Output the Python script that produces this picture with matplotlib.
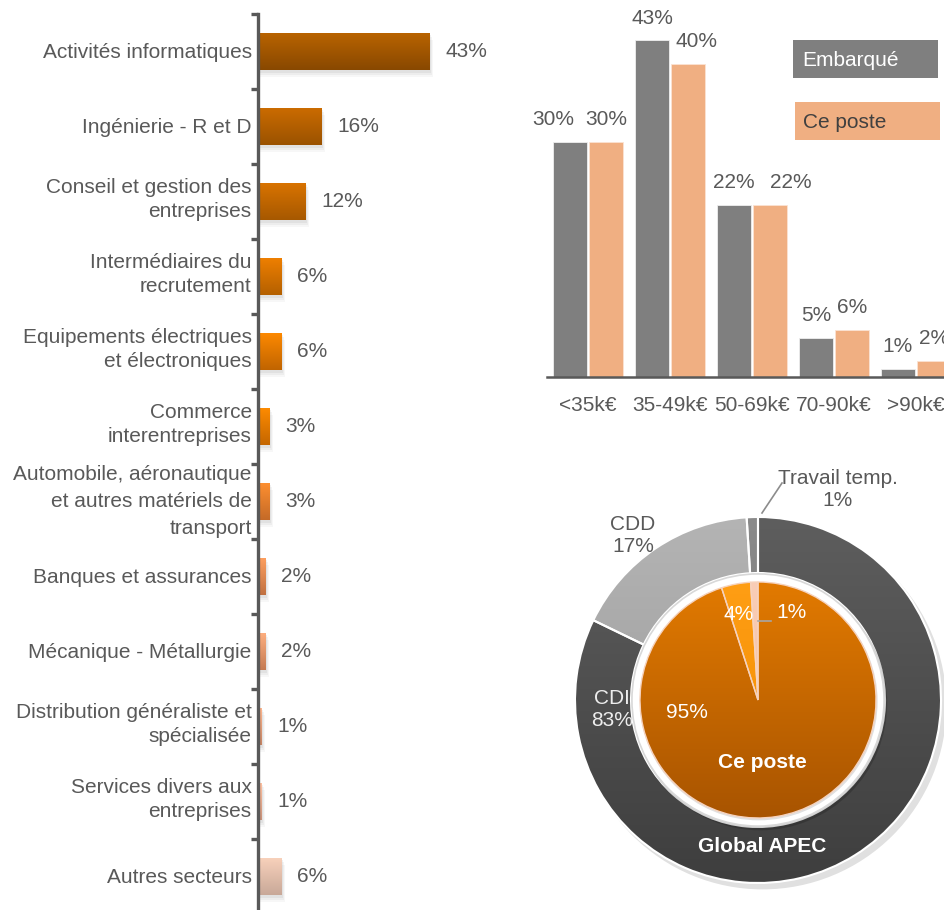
import numpy as np
import matplotlib
matplotlib.use("Agg")
import matplotlib.pyplot as plt
from matplotlib.colors import LinearSegmentedColormap
from matplotlib.patches import Rectangle, Circle

plt.rcParams["font.family"] = ["Liberation Sans", "DejaVu Sans"]

# ---- data -------------------------------------------------------------
sectors = [
    "Activités informatiques",
    "Ingénierie - R et D",
    "Conseil et gestion des\nentreprises",
    "Intermédiaires du\nrecrutement",
    "Equipements électriques\net électroniques",
    "Commerce\ninterentreprises",
    "Automobile, aéronautique\net autres matériels de\ntransport",
    "Banques et assurances",
    "Mécanique - Métallurgie",
    "Distribution généraliste et\nspécialisée",
    "Services divers aux\nentreprises",
    "Autres secteurs",
]
sector_pct = [43, 16, 12, 6, 6, 3, 3, 2, 2, 1, 1, 6]

salary_bands = ["<35k€", "35-49k€", "50-69k€", "70-90k€", ">90k€"]
salary_embarque = [30, 43, 22, 5, 1]
salary_poste = [30, 40, 22, 6, 2]

contract_labels = ["CDI", "CDD", "Travail temp."]
contract_global = [83, 17, 1]
contract_poste = [95, 4, 1]

# ---- styling ------------------------------------------------------------
TXT = "#595959"
FS = 15
W, H = 945, 910

# gradient (top, bottom) per sector bar
sector_grad = [
    ("#BA6400", "#884800"), ("#CC6C00", "#9A5200"), ("#DA7400", "#A65800"),
    ("#F08000", "#B46000"), ("#FF8A00", "#C06400"), ("#FF8C00", "#C46600"),
    ("#FF9030", "#C46A28"), ("#FFA060", "#C07040"), ("#FFB080", "#C47A52"),
    ("#FFB890", "#C48262"), ("#FFC2A2", "#C89078"), ("#F9D2BC", "#C8A898"),
]


def fx(px):
    return px / W


def fy(py):
    return 1 - py / H


def gradient_fill(ax, patch, top, bottom, extent, z):
    cmap = LinearSegmentedColormap.from_list("g", [top, bottom])
    g = np.linspace(0, 1, 256)[:, None]
    im = ax.imshow(g, cmap=cmap, extent=extent, origin="upper",
                   aspect="auto", zorder=z, interpolation="bilinear")
    im.set_clip_path(patch)
    return im


fig = plt.figure(figsize=(W / 100, H / 100), dpi=100)

# ---- sectors (horizontal bars) -----------------------------------------
ax1 = fig.add_axes([fx(258), fy(914), 240 / W, 900 / H])
ypos = np.arange(len(sectors))
bars = ax1.barh(ypos, sector_pct, height=0.5, color="none", zorder=3)
for i, (b, v) in enumerate(zip(bars, sector_pct)):
    y0 = b.get_y()
    h = b.get_height()
    # soft drop shadow
    for k, a in enumerate([0.10, 0.08, 0.06]):
        d = 0.25 + 0.25 * k
        ax1.add_patch(Rectangle((0, y0 + 0.03 * (k + 1)), v + d, h,
                                color="#7f7f7f", alpha=a, lw=0, zorder=1))
    top, bot = sector_grad[i]
    gradient_fill(ax1, b, top, bot, (0, v, y0 + h, y0), 2)
    ax1.annotate(f"{v}%", xy=(v, i), xytext=(11, 0), textcoords="offset points",
                 va="center", ha="left", fontsize=FS, color=TXT)

# category names, right-aligned against the axis line
for i, name in enumerate(sectors):
    n_lines = name.count("\n") + 1
    dy = {1: -1, 2: 1.5, 3: 0}[n_lines]
    ls = {1: 1.2, 2: 1.32, 3: 1.52}[n_lines]
    ax1.annotate(name, xy=(0, i), xytext=(-4.5, dy), textcoords="offset points",
                 ha="right", va="center", multialignment="right",
                 fontsize=FS, color=TXT, linespacing=ls, annotation_clip=False)

ax1.set_xlim(0, 60)
ax1.set_ylim(len(sectors) - 0.5, -0.5)
for s in ["top", "right", "bottom"]:
    ax1.spines[s].set_visible(False)
ax1.spines["left"].set_color(TXT)
ax1.spines["left"].set_linewidth(2.4)
ax1.set_xticks([])
ax1.set_yticks([])
ax1.set_yticks(np.arange(-0.5, len(sectors), 1), minor=True)
ax1.tick_params(axis="y", which="minor", length=5, width=2.4, color=TXT)

# ---- salary bands (grouped bars) ----------------------------------------
ax2 = fig.add_axes([fx(547), fy(376.7), 410 / W, 375.4 / H])
x = np.arange(len(salary_bands))
bw = 34 / 82
off = 18 / 82
GREY, SALMON = "#7F7F7F", "#F0AF82"
b_emb = ax2.bar(x - off, salary_embarque, width=bw, color=GREY,
                edgecolor="#eeeeee", linewidth=0.6, zorder=2)
b_pos = ax2.bar(x + off, salary_poste, width=bw, color=SALMON,
                edgecolor="#fbe3d3", linewidth=0.6, zorder=2)
nudge_emb = [-17, 0, 0, 0, 0]
nudge_pos = [0, 9, 21, 0, 0]
for bars_, vals, nud in [(b_emb, salary_embarque, nudge_emb),
                         (b_pos, salary_poste, nudge_pos)]:
    for b, v, n in zip(bars_, vals, nud):
        ax2.annotate(f"{v}%", xy=(b.get_x() + b.get_width() / 2, v),
                     xytext=(n * 0.72, 16), textcoords="offset points",
                     ha="center", va="center", fontsize=FS, color=TXT)
ax2.set_xlim(-0.5, 4.5)
ax2.set_ylim(0, 48)
for s in ["top", "right", "left"]:
    ax2.spines[s].set_visible(False)
ax2.spines["bottom"].set_color(TXT)
ax2.spines["bottom"].set_linewidth(1.8)
ax2.set_yticks([])
ax2.set_xticks(x)
ax2.set_xticklabels(salary_bands, fontsize=FS, color=TXT)
ax2.tick_params(axis="x", length=0, pad=14)

# legend boxes
fig.add_artist(Rectangle((fx(793), fy(78)), 145 / W, 38 / H, color=GREY,
                         transform=fig.transFigure, lw=0))
fig.text(fx(802), fy(60), "Embarqué", fontsize=FS, color="white",
         ha="left", va="center")
fig.add_artist(Rectangle((fx(795), fy(140)), 145 / W, 38 / H, color=SALMON,
                         transform=fig.transFigure, lw=0))
fig.text(fx(803), fy(122), "Ce poste", fontsize=FS, color="#404040",
         ha="left", va="center")

# ---- contract types (nested donut) --------------------------------------
R = 183.0
ax3 = fig.add_axes([fx(758 - 1.1 * R), fy(700 + 1.1 * R), 2.2 * R / W, 2.2 * R / H])

ax3.add_patch(Circle((0.025, -0.03), 1.005, color="#000000", alpha=0.12, lw=0, zorder=0))
ring_in = 127 / R
wo, _ = ax3.pie(contract_global, radius=1.0, startangle=90, counterclock=False,
                colors=["none"] * 3,
                wedgeprops=dict(width=1 - ring_in, edgecolor="white", linewidth=1.5),
                normalize=True)
glob_grad = [("#5E5E5E", "#3E3E3E"), ("#B4B4B4", "#949494"), ("#8A8A8A", "#6E6E6E")]
for w_, (t, b) in zip(wo, glob_grad):
    w_.set_zorder(3)
    gradient_fill(ax3, w_, t, b, (-1, 1, -1, 1), 2)

# white separator ring around the inner pie
ax3.add_patch(Circle((0.012, -0.018), ring_in, color="#000000", alpha=0.18, lw=0, zorder=4))
ax3.add_patch(Circle((0, 0), ring_in - 0.005, facecolor="white",
                     edgecolor="#d8d8d8", lw=1.2, zorder=5))
r_in = 118 / R
ax3.add_patch(Circle((0.004, -0.008), r_in + 0.005, color="#000000", alpha=0.12, lw=0, zorder=5.5))
wi, _ = ax3.pie(contract_poste, radius=r_in, startangle=90, counterclock=False,
                colors=["none"] * 3,
                wedgeprops=dict(edgecolor="#f6d2bd", linewidth=1.0),
                normalize=True)
poste_grad = [("#E27A00", "#A85400"), ("#FF9E14", "#F08A00"), ("#F9CDB6", "#F4B898")]
for w_, (t, b) in zip(wi, poste_grad):
    w_.set_zorder(7)
    gradient_fill(ax3, w_, t, b, (-r_in, r_in, -r_in, r_in), 6)

ax3.set_xlim(-1.1, 1.1)
ax3.set_ylim(-1.1, 1.1)
ax3.set_aspect("auto")
ax3.axis("off")


def px2d(px, py):
    return ((px - 758) / R, (700 - py) / R)


def lbl(px, py, s, color, bold=False):
    ax3.text(*px2d(px, py), s, ha="center", va="center", fontsize=FS,
             color=color, fontweight="bold" if bold else "normal",
             linespacing=1.2, zorder=10, clip_on=False)


lbl(838, 490, f"{contract_labels[2]}\n{contract_global[2]}%", TXT)
ax3.plot(*zip(px2d(762, 513), px2d(782, 483)), color="#8c8c8c", lw=1.2,
         zorder=10, clip_on=False)
lbl(633, 535, f"{contract_labels[1]}\n{contract_global[1]}%", TXT)
lbl(612, 710, f"{contract_labels[0]}\n{contract_global[0]}%", "#EDEDED")
lbl(687, 713, f"{contract_poste[0]}%", "white")
lbl(739, 615, f"{contract_poste[1]}%", "white")
lbl(792, 613, f"{contract_poste[2]}%", "white")
ax3.plot(*zip(px2d(758, 621), px2d(771, 621)), color="#a6a6a6", lw=1.2, zorder=10)
lbl(762, 763, "Ce poste", "white", bold=True)
lbl(762, 847, "Global APEC", "white", bold=True)

fig.savefig("out.png", dpi=100)
